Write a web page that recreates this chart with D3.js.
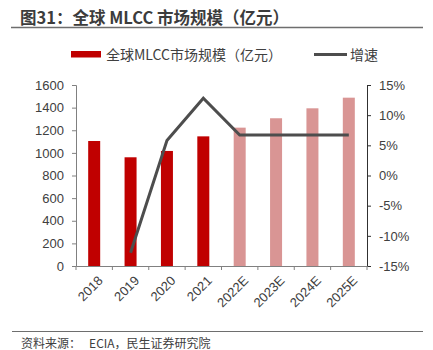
<!DOCTYPE html>
<html><head><meta charset="utf-8">
<script src="https://cdn.jsdelivr.net/npm/d3@7"></script>
<style>body{margin:0;background:#fff}svg{display:block}text{font-family:"Liberation Sans","Noto Sans CJK SC",sans-serif}</style>
</head><body>
<script>
const categories = ["2018","2019","2020","2021","2022E","2023E","2024E","2025E"];
const marketSize = [1105, 961, 1017, 1146, 1223, 1306, 1394, 1488];
const growth = [null, -12.8, 5.8, 12.8, 6.7, 6.7, 6.7, 6.7];
const estimated = [false,false,false,false,true,true,true,true];
const leftTicks = [0,200,400,600,800,1000,1200,1400,1600];
const rightTicks = [-15,-10,-5,0,5,10,15];

const W=433,H=350;
const svg=d3.select("body").append("svg").attr("width",W).attr("height",H);
const cjk='"Noto Sans CJK SC","Liberation Sans",sans-serif';
const latin='"Liberation Sans",Arial,sans-serif';

// title
svg.append("text").attr("x",20).attr("y",23.5).attr("font-size",16.5).attr("font-weight","bold")
  .attr("fill","#3c3c3c").style("font-family",cjk).text("图31：全球 MLCC 市场规模（亿元）");
svg.append("line").attr("x1",11).attr("x2",423).attr("y1",27.5).attr("y2",27.5).attr("stroke","#6e6e6e").attr("stroke-width",1.3);

const L=76,R=367,T=85,B=266;
const xb=d3.scaleBand().domain(categories).range([L,R]);
const y=d3.scaleLinear().domain([0,1600]).range([B,T]);
const y2=d3.scaleLinear().domain([-15,15]).range([B,T]);

// bars
svg.selectAll("rect.bar").data(categories).enter().append("rect")
  .attr("x",d=>xb(d)+xb.bandwidth()/2-6).attr("width",12)
  .attr("y",(d,i)=>y(marketSize[i])).attr("height",(d,i)=>B-y(marketSize[i]))
  .attr("fill",(d,i)=>estimated[i]?"#d99594":"#c00000");

// line
const line=d3.line().defined(d=>d.v!=null).x(d=>xb(d.c)+xb.bandwidth()/2).y(d=>y2(d.v));
svg.append("path").datum(categories.map((c,i)=>({c,v:growth[i]})))
  .attr("d",line).attr("fill","none").attr("stroke","#4d4d4d").attr("stroke-width",3);

// axes
const la=svg.append("g").attr("transform",`translate(${L},0)`)
  .call(d3.axisLeft(y).tickValues(leftTicks).tickSize(4).tickPadding(8).tickFormat(d3.format("d")));
la.attr("font-family",latin);
la.select(".domain").attr("stroke","#808080");
la.selectAll(".tick line").attr("stroke","#808080");
la.selectAll("text").attr("font-size",13).attr("fill","#404040");

const ra=svg.append("g").attr("transform",`translate(${R},0)`)
  .call(d3.axisRight(y2).tickValues(rightTicks).tickSize(4).tickPadding(8).tickFormat(d=>d+"%"));
ra.attr("font-family",latin);
ra.select(".domain").attr("stroke","#303030");
ra.selectAll(".tick line").attr("stroke","#303030");
ra.selectAll("text").attr("font-size",13).attr("fill","#404040");

const xa=svg.append("g").attr("transform",`translate(0,${B})`)
  .call(d3.axisBottom(xb).tickSize(0).tickFormat(""));
xa.select(".domain").attr("stroke","#808080");
// boundary ticks
svg.selectAll("line.bt").data(d3.range(categories.length+1)).enter().append("line")
  .attr("x1",i=>L+i*xb.step()).attr("x2",i=>L+i*xb.step())
  .attr("y1",B).attr("y2",B+4).attr("stroke","#808080");
svg.selectAll("text.xl").data(categories).enter().append("text")
  .attr("transform",d=>`translate(${xb(d)+xb.bandwidth()/2+3},${B+9}) rotate(-45)`)
  .attr("text-anchor","end").attr("dy","0.7em").attr("font-size",13).style("font-family",latin)
  .attr("fill","#404040").text(d=>d);

// legend
svg.append("rect").attr("x",71).attr("y",51).attr("width",30).attr("height",6.5).attr("fill","#c00000");
svg.append("text").attr("x",106).attr("y",60).attr("font-size",14).attr("fill","#404040").style("font-family",cjk).text("全球MLCC市场规模（亿元）");
svg.append("line").attr("x1",314).attr("x2",347).attr("y1",54.5).attr("y2",54.5).attr("stroke","#4d4d4d").attr("stroke-width",3);
svg.append("text").attr("x",350).attr("y",60).attr("font-size",14).attr("fill","#404040").style("font-family",cjk).text("增速");

// footer
svg.append("line").attr("x1",12).attr("x2",423).attr("y1",331.5).attr("y2",331.5).attr("stroke","#6e6e6e").attr("stroke-width",1);
svg.append("text").attr("x",21).attr("y",347.5).attr("font-size",12).attr("fill","#404040").style("font-family",cjk).style("white-space","pre").text("资料来源：   ECIA，民生证券研究院");
</script>
</body></html>
